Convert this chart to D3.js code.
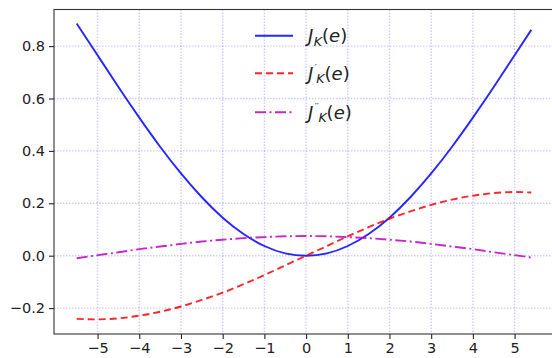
<!DOCTYPE html>
<html>
<head>
<meta charset="utf-8">
<script src="https://cdn.jsdelivr.net/npm/d3@7"></script>
<style>
  body { margin: 0; background: #fff; }
  svg { display: block; }
</style>
</head>
<body>
<svg id="chart" width="552" height="358"></svg>
<script>
// values
var eValues = [-5.5, -5.0, -4.5, -4.0, -3.5, -3.0, -2.5, -2.0, -1.5, -1.0, -0.5, 0.0,
               0.5, 1.0, 1.5, 2.0, 2.5, 3.0, 3.5, 4.0, 4.5, 5.0, 5.4]
var jk   = [0.886, 0.765, 0.644, 0.527, 0.416, 0.314, 0.223, 0.145, 0.083, 0.037, 0.009, 0.000,
            0.009, 0.037, 0.083, 0.145, 0.223, 0.314, 0.416, 0.527, 0.644, 0.765, 0.862]
var jk1  = [-0.241, -0.243, -0.239, -0.229, -0.214, -0.194, -0.169, -0.141, -0.109, -0.074, -0.037, 0.000,
            0.037, 0.074, 0.109, 0.141, 0.169, 0.194, 0.214, 0.229, 0.239, 0.243, 0.241]
var jk2  = [-0.010, 0.002, 0.013, 0.025, 0.035, 0.045, 0.054, 0.061, 0.067, 0.071, 0.074, 0.075,
            0.074, 0.071, 0.067, 0.061, 0.054, 0.045, 0.035, 0.025, 0.013, 0.002, -0.007]
var xTicks = [-5, -4, -3, -2, -1, 0, 1, 2, 3, 4, 5]
var yTicks = [-0.2, 0.0, 0.2, 0.4, 0.6, 0.8]
var seriesNames = ["J", "J'", "J''"]

var margin = {left: 54, top: 9.5, right: 554, bottom: 334}
var font = "DejaVu Sans"

var svg = d3.select("#chart")

var x = d3.scaleLinear().domain([-6.045, 5.945]).range([margin.left, margin.right])
var y = d3.scaleLinear().domain([-0.2989, 0.9397]).range([margin.bottom, margin.top])

// grid
var grid = svg.append("g")
grid.selectAll(".gx").data(xTicks).join("line")
  .attr("x1", d => x(d)).attr("x2", d => x(d))
  .attr("y1", margin.top).attr("y2", margin.bottom)
grid.selectAll(".gy").data(yTicks).join("line")
  .attr("y1", d => y(d)).attr("y2", d => y(d))
  .attr("x1", margin.left).attr("x2", margin.right)
grid.selectAll("line")
  .attr("stroke", "#0000ff")
  .attr("stroke-opacity", 0.2)
  .attr("stroke-width", 1.4)
  .attr("stroke-dasharray", "1.5,1.5")

// axes
var xAxis = svg.append("g")
  .attr("transform", `translate(0,${margin.bottom})`)
  .call(d3.axisBottom(x).tickValues(xTicks).tickSize(5).tickPadding(4)
    .tickFormat(d => d < 0 ? "\u2212" + Math.abs(d) : d))
var yAxis = svg.append("g")
  .attr("transform", `translate(${margin.left},0)`)
  .call(d3.axisLeft(y).tickValues(yTicks).tickSize(5).tickPadding(4)
    .tickFormat(d => (d < 0 ? "\u2212" : "") + d3.format(".1f")(Math.abs(d))))
;[xAxis, yAxis].forEach(function(a) {
  a.select(".domain").remove()
  a.selectAll("text").attr("font-family", font).attr("font-size", 14.5).attr("fill", "#222")
  a.selectAll("line").attr("stroke", "#222").attr("stroke-width", 1.1)
})

// frame
svg.append("rect")
  .attr("x", margin.left).attr("y", margin.top)
  .attr("width", margin.right - margin.left).attr("height", margin.bottom - margin.top)
  .attr("fill", "none").attr("stroke", "#333").attr("stroke-width", 1.1)

// lines
var series = [
  {name: seriesNames[0], values: jk,  color: "#0000ff", dash: null},
  {name: seriesNames[1], values: jk1, color: "#ff0000", dash: "7,4"},
  {name: seriesNames[2], values: jk2, color: "#bf00bf", dash: "11,3.5,2,3.5"}
]
var line = d3.line()
  .x((d, i) => x(eValues[i]))
  .y(d => y(d))
  .curve(d3.curveNatural)

svg.selectAll(".series").data(series).join("path")
  .attr("d", d => line(d.values))
  .attr("fill", "none")
  .attr("stroke", d => d.color)
  .attr("stroke-opacity", 0.85)
  .attr("stroke-width", 1.9)
  .attr("stroke-dasharray", d => d.dash)

// legend
var legendRows = [35.7, 73.3, 112.3]
var lg = svg.append("g")
series.forEach(function(s, i) {
  var cy = legendRows[i]
  lg.append("line")
    .attr("x1", 255).attr("x2", 293).attr("y1", cy).attr("y2", cy)
    .attr("stroke", s.color).attr("stroke-opacity", 0.85)
    .attr("stroke-width", 1.9).attr("stroke-dasharray", s.dash)
  var t = lg.append("text")
    .attr("x", 308).attr("y", cy + 6.5)
    .attr("font-family", font).attr("font-size", 18).attr("fill", "#222")
  t.append("tspan").attr("font-style", "italic").text("J")
  var primes = s.name.replace("J", "")
  var k = t.append("tspan").attr("font-style", "italic").attr("font-size", 12.5)
  if (primes.length) {
    t.insert("tspan", function() { return k.node() })
      .attr("font-size", 9).attr("dy", -9).attr("dx", 1.5)
      .text(primes.replace(/'/g, "\u2032"))
    k.attr("dy", 12.5).attr("dx", -0.5)
  } else {
    k.attr("dy", 3.5).attr("dx", 0.5)
  }
  k.text("K")
  t.append("tspan").attr("dy", -3.5).text("(")
  t.append("tspan").attr("font-style", "italic").text("e")
  t.append("tspan").text(")")
})
</script>
</body>
</html>
